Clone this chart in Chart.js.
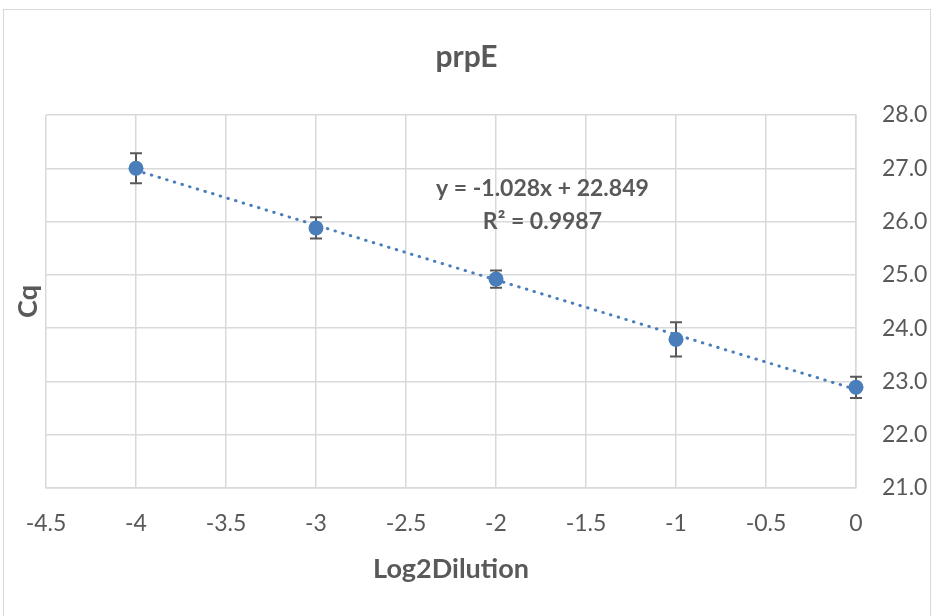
<!DOCTYPE html>
<html>
<head>
<meta charset="utf-8">
<script src="https://cdn.jsdelivr.net/npm/chart.js@4/dist/chart.umd.min.js"></script>
<style>
  html, body { margin: 0; padding: 0; background: #fff; overflow: hidden; }
  #frame { position: absolute; left: 3px; top: 9px; width: 926px; height: 700px; border: 1.5px solid #d9d9d9; }
  #wrap { position: absolute; left: 0; top: 0; width: 933px; height: 616px; }
</style>
</head>
<body>
<div id="frame"></div>
<div id="wrap"><canvas id="grafica"></canvas></div>
<script>
// datos
const log2Dil = [-4, -3, -2, -1, 0];
const cq = [27.00, 25.88, 24.92, 23.79, 22.89];
const cqErr = [0.28, 0.20, 0.16, 0.32, 0.20];

// línea de tendencia (extremos)
const trendX = [-4, 0];
const trendY = [26.961, 22.849];
const trendTexto = ["y = -1.028x + 22.849", "R² = 0.9987"];

const gris = "#595959";
const azul = "#4a7ebb";
const rejilla = "#d9d9d9";
const fuente = "Lato, 'Open Sans', sans-serif";

// barras de error
const barrasError = {
    id: "barrasError",
    beforeDatasetsDraw(chart) {
        const ctx = chart.ctx;
        const sx = chart.scales.x, sy = chart.scales.y;
        ctx.save();
        ctx.strokeStyle = gris;
        ctx.lineWidth = 2;
        log2Dil.forEach((x, i) => {
            const px = sx.getPixelForValue(x);
            const top = sy.getPixelForValue(cq[i] + cqErr[i]);
            const bot = sy.getPixelForValue(cq[i] - cqErr[i]);
            ctx.beginPath();
            ctx.moveTo(px, top); ctx.lineTo(px, bot);
            ctx.moveTo(px - 6, top); ctx.lineTo(px + 6, top);
            ctx.moveTo(px - 6, bot); ctx.lineTo(px + 6, bot);
            ctx.stroke();
        });
        ctx.restore();
    }
};

// ecuación de la tendencia
const etiquetaTendencia = {
    id: "etiquetaTendencia",
    afterDatasetsDraw(chart) {
        const ctx = chart.ctx;
        const px = chart.scales.x.getPixelForValue(-1.742);
        const py = chart.scales.y.getPixelForValue(26.31);
        ctx.save();
        ctx.fillStyle = gris;
        ctx.font = "bold 23px " + fuente;
        ctx.textAlign = "center";
        ctx.textBaseline = "middle";
        ctx.fillText(trendTexto[0], px, py - 16.5);
        ctx.fillText(trendTexto[1], px, py + 16.5);
        ctx.restore();
    }
};

new Chart(document.getElementById("grafica"), {
    type: "scatter",
    data: {
        datasets: [
            {
                label: "Cq",
                data: log2Dil.map((x, i) => ({ x: x, y: cq[i] })),
                backgroundColor: azul,
                borderColor: azul,
                pointRadius: 7.5,
                pointHoverRadius: 7.5,
                borderWidth: 0,
                clip: false
            },
            {
                label: "Tendencia",
                type: "line",
                data: trendX.map((x, i) => ({ x: x, y: trendY[i] })),
                borderColor: azul,
                borderWidth: 3,
                borderDash: [0.5, 7.5],
                borderCapStyle: "round",
                pointRadius: 0,
                fill: false
            }
        ]
    },
    options: {
        responsive: true,
        maintainAspectRatio: false,
        animation: false,
        layout: { padding: 0 },
        plugins: {
            legend: { display: false },
            tooltip: { enabled: false },
            title: {
                display: true,
                text: "prpE",
                color: gris,
                font: { family: fuente, size: 30, weight: "bold" },
                padding: { top: 39.5, bottom: 39.5 }
            }
        },
        scales: {
            x: {
                type: "linear",
                min: -4.5,
                max: 0,
                afterFit: s => { s.height = 128; },
                ticks: {
                    stepSize: 0.5,
                    autoSkip: false,
                    maxRotation: 0,
                    padding: 22,
                    color: gris,
                    font: { family: fuente, size: 23 },
                    callback: v => String(v)
                },
                grid: { color: rejilla, lineWidth: 1.5, drawTicks: false },
                border: { color: rejilla, width: 1.5 },
                title: {
                    display: true,
                    text: "Log2Dilution",
                    color: gris,
                    font: { family: fuente, size: 27, weight: "bold" },
                    padding: { top: 0, bottom: 31 }
                }
            },
            y: {
                position: "right",
                min: 21,
                max: 28,
                afterFit: s => { s.width = 77; },
                ticks: {
                    stepSize: 1,
                    padding: 26,
                    color: gris,
                    font: { family: fuente, size: 23 },
                    callback: v => v.toFixed(1)
                },
                grid: { color: rejilla, lineWidth: 1.5, drawTicks: false },
                border: { color: rejilla, width: 1.5 }
            },
            y2: {
                position: "left",
                afterFit: s => { s.width = 46; },
                ticks: { display: false },
                grid: { display: false },
                border: { display: false },
                title: {
                    display: true,
                    text: "Cq",
                    color: gris,
                    font: { family: fuente, size: 27, weight: "bold" },
                    padding: { top: 12, bottom: 0 }
                }
            }
        }
    },
    plugins: [barrasError, etiquetaTendencia]
});
</script>
</body>
</html>
